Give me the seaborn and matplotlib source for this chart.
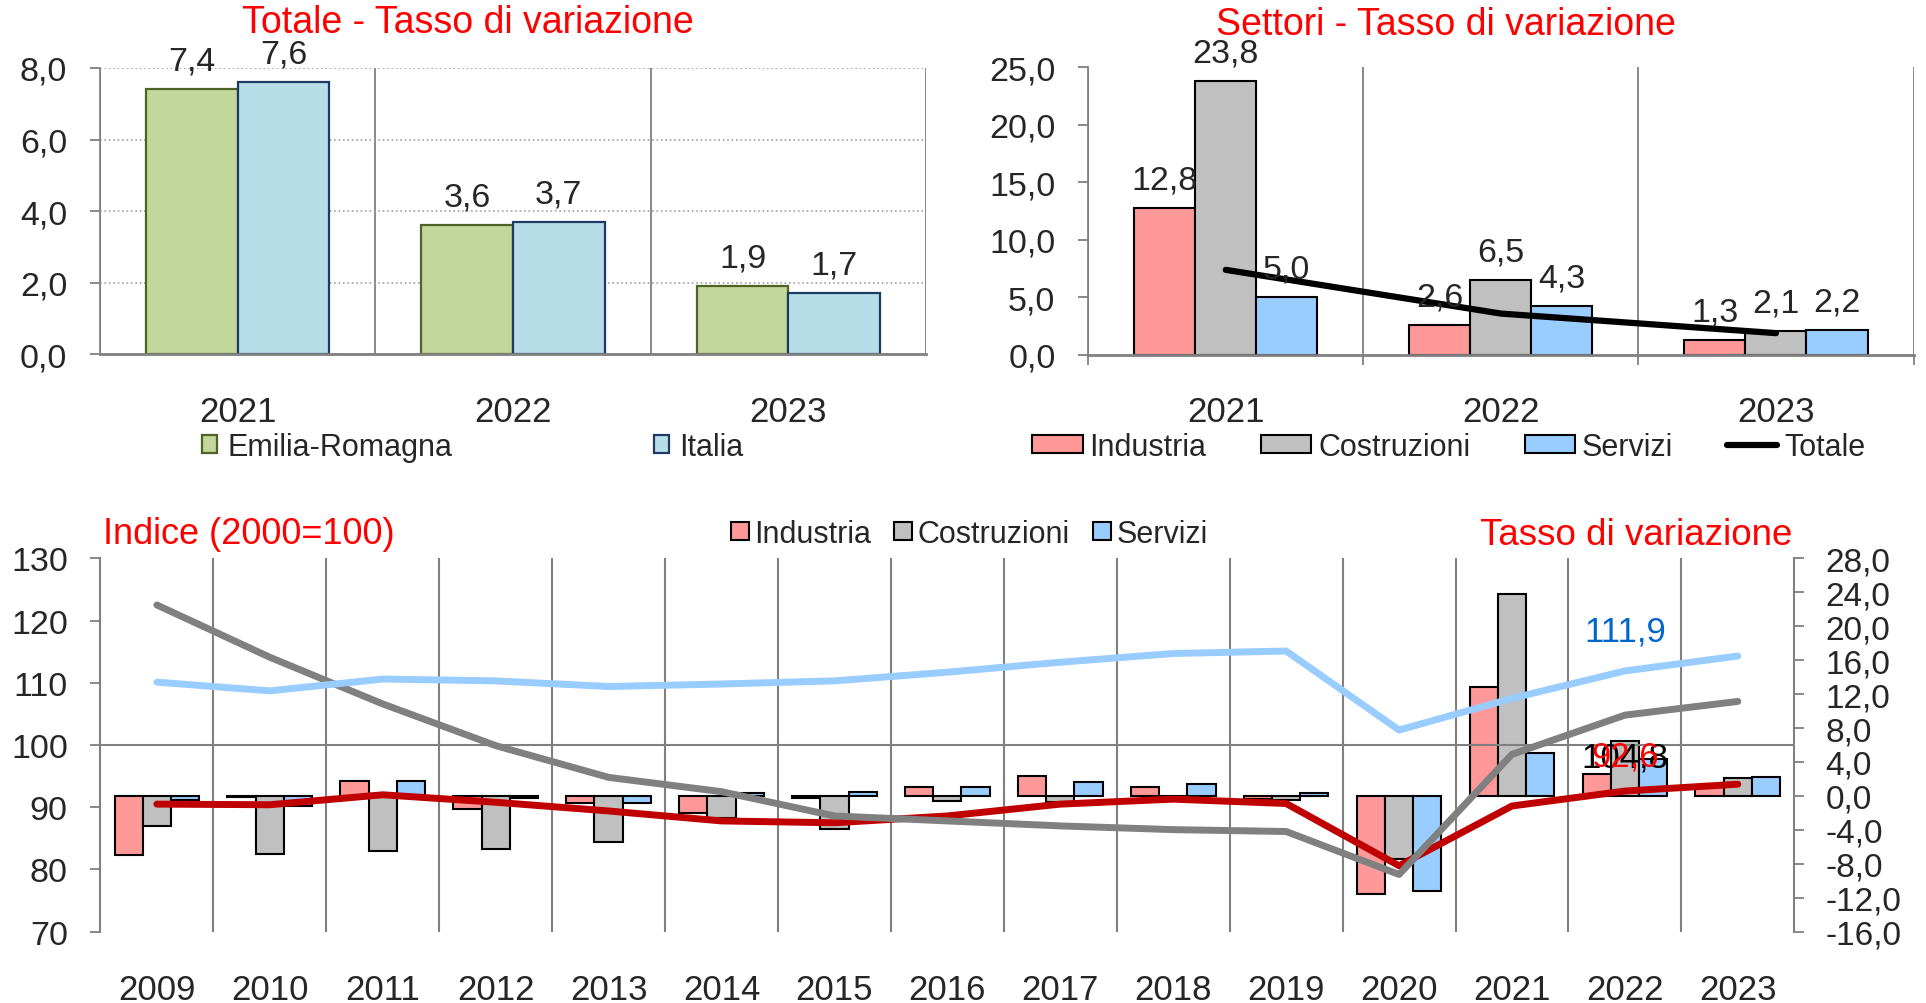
import pandas as pd
import seaborn as sns
import matplotlib
matplotlib.use("Agg")
import matplotlib.pyplot as plt
from matplotlib.patches import Patch
from matplotlib.lines import Line2D

# --- data ---
anni_top = ["2021", "2022", "2023"]
er_totale = [7.4, 3.6, 1.9]
it_totale = [7.6, 3.7, 1.7]
ind_top = [12.8, 2.6, 1.3]
cos_top = [23.8, 6.5, 2.1]
ser_top = [5.0, 4.3, 2.2]
tot_top = [7.4, 3.6, 1.9]

anni = ["2009", "2010", "2011", "2012", "2013", "2014", "2015", "2016",
        "2017", "2018", "2019", "2020", "2021", "2022", "2023"]
# tassi di variazione (asse destro)
ind_var = [-7.0, -0.1, 1.7, -1.5, -0.8, -2.0, -0.2, 1.1, 2.3, 1.0, -0.4, -11.6, 12.8, 2.6, 1.3]
cos_var = [-3.6, -6.9, -6.5, -6.2, -5.4, -2.6, -3.9, -0.6, -0.7, -0.1, -0.5, -7.4, 23.8, 6.5, 2.1]
ser_var = [-0.5, -1.2, 1.7, -0.2, -0.8, 0.4, 0.5, 1.1, 1.6, 1.4, 0.4, -11.2, 5.0, 4.3, 2.2]
# indici 2000=100 (asse sinistro)
ind_idx = [90.5, 90.4, 92.0, 90.8, 89.4, 87.8, 87.5, 88.6, 90.5, 91.3, 90.6, 80.6, 90.2, 92.6, 93.7]
cos_idx = [122.5, 114.1, 106.6, 99.9, 94.8, 92.5, 88.6, 87.8, 87.0, 86.4, 86.1, 79.2, 98.5, 104.8, 107.0]
ser_idx = [110.1, 108.7, 110.6, 110.3, 109.4, 109.8, 110.3, 111.7, 113.3, 114.7, 115.1, 102.4, 107.5, 111.9, 114.3]

PINK, GREY, BLUE = "#FF9999", "#C0C0C0", "#99CCFF"
AX = "#808080"
RED = "#FF0000"


def fmt(v):
    return f"{v:.1f}".replace(".", ",")


sns.set_theme(style="white")
plt.rcParams["font.family"] = ["Liberation Sans", "DejaVu Sans"]

W, H = 1926, 1004
fig = plt.figure(figsize=(W / 100, H / 100), dpi=100)
ax1 = fig.add_axes([100 / W, 1 - 355.3 / H, 826 / W, 286.3 / H])
ax2 = fig.add_axes([1088.2 / W, 1 - 356 / H, 825.3 / W, 287.7 / H])
ax3 = fig.add_axes([100.4 / W, 1 - 932.7 / H, 1693.9 / W, 373.4 / H])

# ---------- top left: totale ----------
df_tot = pd.DataFrame({"anno": anni_top * 2,
                       "area": ["Emilia-Romagna"] * 3 + ["Italia"] * 3,
                       "valore": er_totale + it_totale})
sns.barplot(data=df_tot, x="anno", y="valore", hue="area",
            palette=["#C3D69B", "#B7DEE8"], width=0.665, saturation=1,
            errorbar=None, legend=False, ax=ax1)
for cont, ec in zip(ax1.containers, ["#4F6228", "#1F3A60"]):
    for b in cont:
        b.set_edgecolor(ec)
        b.set_linewidth(1.6)
    ax1.bar_label(cont, labels=[fmt(b.get_height()) for b in cont], padding=9, fontsize=24.5)

ax1.set_ylim(0, 8)
ax1.set_yticks([0, 2, 4, 6, 8])
ax1.set_yticklabels([fmt(v) for v in [0, 2, 4, 6, 8]])
ax1.yaxis.grid(True, linestyle=":", color="#A0A0A0", lw=1.2)

# ---------- top right: settori ----------
df_set = pd.DataFrame({"anno": anni_top * 3,
                       "settore": ["Industria"] * 3 + ["Costruzioni"] * 3 + ["Servizi"] * 3,
                       "valore": ind_top + cos_top + ser_top})
sns.barplot(data=df_set, x="anno", y="valore", hue="settore",
            palette=[PINK, GREY, BLUE], width=0.666, saturation=1,
            edgecolor="black", linewidth=1.5, errorbar=None, legend=False, ax=ax2)
for cont in ax2.containers:
    ax2.bar_label(cont, labels=[fmt(b.get_height()) for b in cont], padding=9, fontsize=24.5)
sns.lineplot(x=[0, 1, 2], y=tot_top, color="black", linewidth=4.5, ax=ax2)
ax2.set_ylim(0, 25)
ax2.set_yticks(range(0, 26, 5))
ax2.set_yticklabels([fmt(v) for v in range(0, 26, 5)])

for ax in (ax1, ax2):
    ax.set_xlim(-0.5, 2.5)
    ax.set_xlabel("")
    ax.set_ylabel("")
    ax.set_xticks([0, 1, 2])
    ax.set_xticklabels(anni_top)
    ax.set_xticks([-0.5, 0.5, 1.5, 2.5], minor=True)
    ax.xaxis.grid(True, which="minor", color=AX, lw=1.3)
    ax.xaxis.grid(False, which="major")
    ax.tick_params(axis="x", which="major", length=0, pad=29, labelsize=25)
    ax.tick_params(axis="y", left=True, length=7.5, width=1.3, color=AX, pad=16, labelsize=24.5)
    ax.spines["top"].set_visible(False)
    ax.spines["right"].set_visible(False)
    ax.spines["left"].set_color(AX)
    ax.spines["bottom"].set_color(AX)
    ax.spines["bottom"].set_linewidth(2)
ax1.tick_params(axis="x", which="minor", bottom=False)
ax2.tick_params(axis="x", which="minor", bottom=True, length=7.5, width=1.3, color=AX)

# ---------- bottom: indici e tassi ----------
df_var = pd.DataFrame({"anno": anni * 3,
                       "settore": ["Industria"] * 15 + ["Costruzioni"] * 15 + ["Servizi"] * 15,
                       "valore": ind_var + cos_var + ser_var})
sns.barplot(data=df_var, x="anno", y="valore", hue="settore",
            palette=[PINK, GREY, BLUE], width=0.75, saturation=1,
            edgecolor="black", linewidth=1.5, errorbar=None, legend=False, ax=ax3)

ax4 = ax3.twinx()
df_idx = pd.DataFrame({"pos": list(range(len(anni))) * 3,
                       "serie": ["Industria"] * 15 + ["Costruzioni"] * 15 + ["Servizi"] * 15,
                       "valore": ind_idx + cos_idx + ser_idx})
ax4.axhline(100, color=AX, lw=1.5, zorder=0.5)
sns.lineplot(data=df_idx, x="pos", y="valore", hue="serie",
             hue_order=["Industria", "Costruzioni", "Servizi"],
             palette={"Industria": "#C00000", "Costruzioni": "#808080", "Servizi": "#99CCFF"},
             linewidth=5, errorbar=None, legend=False, solid_capstyle="round", ax=ax4)

ax4.annotate("111,9", xy=(13, ser_idx[13]), xytext=(0, 29), textcoords="offset points",
             ha="center", va="center", fontsize=25, color="#0066CC")
ax4.annotate("104,8", xy=(13, cos_idx[13]), xytext=(0, -30), textcoords="offset points",
             ha="center", va="center", fontsize=25, color="black")
ax4.annotate("92,6", xy=(13, ind_idx[13]), xytext=(0, 25), textcoords="offset points",
             ha="center", va="center", fontsize=25, color=RED)

ax3.set_ylim(-16, 28)
rticks = list(range(-16, 29, 4))
ax3.set_yticks(rticks)
ax3.set_yticklabels([fmt(v) for v in rticks])
for t, lbl in zip(rticks, ax3.get_yticklabels()):
    lbl.set_color(RED if t < 0 else "black")
ax3.yaxis.tick_right()
ax3.tick_params(axis="y", right=True, left=False, length=7.5, width=1.3, color=AX,
                pad=15, labelsize=24)

ax4.set_ylim(70, 130)
ax4.set_yticks(range(70, 131, 10))
ax4.yaxis.tick_left()
ax4.tick_params(axis="y", left=True, right=False, length=7.5, width=1.3, color=AX,
                pad=16, labelsize=24.5)
ax4.set_ylabel("")
for s in ax4.spines.values():
    s.set_visible(False)

ax3.set_xlim(-0.5, 14.5)
ax3.set_xticks(range(len(anni)))
ax3.set_xticklabels(anni)
ax3.set_xticks([i + 0.5 for i in range(14)], minor=True)
ax3.xaxis.grid(True, which="minor", color=AX, lw=1.5)
ax3.xaxis.grid(False, which="major")
ax3.tick_params(axis="x", which="both", length=0, pad=30, labelsize=25)
ax3.set_xlabel("")
ax3.set_ylabel("")
ax3.spines["top"].set_visible(False)
ax3.spines["bottom"].set_visible(False)
ax3.spines["left"].set_color(AX)
ax3.spines["right"].set_color(AX)
ax3.spines["left"].set_linewidth(1.5)
ax3.spines["right"].set_linewidth(1.5)

# ---------- titles and legends ----------
fig.text(468 / W, 1 - 33 / H, "Totale - Tasso di variazione", color=RED,
         fontsize=27, ha="center", va="baseline")
fig.text(1446 / W, 1 - 35 / H, "Settori - Tasso di variazione", color=RED,
         fontsize=27, ha="center", va="baseline")
fig.text(102.7 / W, 1 - 544 / H, "Indice (2000=100)", color=RED,
         fontsize=26, ha="left", va="baseline")
fig.text(1792.6 / W, 1 - 545 / H, "Tasso di variazione", color=RED,
         fontsize=26.5, ha="right", va="baseline")

h_tot = [Patch(facecolor="#C3D69B", edgecolor="#4F6228", lw=1.6),
         Patch(facecolor="#B7DEE8", edgecolor="#1F3A60", lw=1.6)]
fig.legend(h_tot, ["Emilia-Romagna", "Italia"], loc="center",
           bbox_to_anchor=(473 / W, 1 - 448 / H), ncol=2, frameon=False, fontsize=22,
           handlelength=0.5, handleheight=0.55, handletextpad=0.33, columnspacing=6.6)

h_set = [Patch(facecolor=PINK, edgecolor="black", lw=1.5),
         Patch(facecolor=GREY, edgecolor="black", lw=1.5),
         Patch(facecolor=BLUE, edgecolor="black", lw=1.5),
         Line2D([], [], color="black", lw=4.5)]
fig.legend(h_set, ["Industria", "Costruzioni", "Servizi", "Totale"], loc="center",
           bbox_to_anchor=(1449 / W, 1 - 448 / H), ncol=4, frameon=False, fontsize=22,
           handlelength=1.64, handleheight=0.52, handletextpad=0.23, columnspacing=1.78)

h_var = [Patch(facecolor=PINK, edgecolor="black", lw=1.5),
         Patch(facecolor=GREY, edgecolor="black", lw=1.5),
         Patch(facecolor=BLUE, edgecolor="black", lw=1.5)]
fig.legend(h_var, ["Industria", "Costruzioni", "Servizi"], loc="center",
           bbox_to_anchor=(969 / W, 1 - 534.7 / H), ncol=3, frameon=False, fontsize=22,
           handlelength=0.59, handleheight=0.52, handletextpad=0.18, columnspacing=0.75)

fig.savefig("out.png", dpi=100)
